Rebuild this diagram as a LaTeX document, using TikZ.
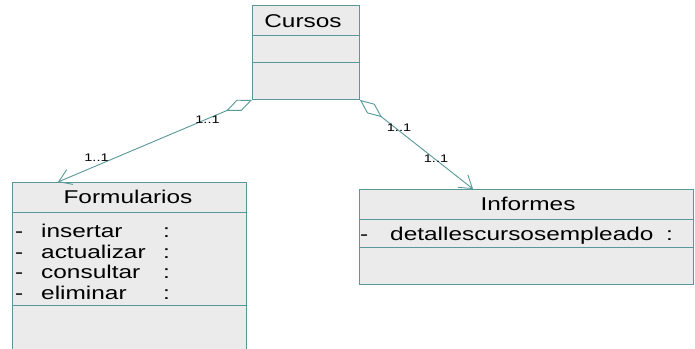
\documentclass[tikz,border=0pt]{standalone}
\usepackage{fontspec}
\setmainfont{Liberation Sans}
\newfontfamily\umlf[FakeStretch=1.32]{Liberation Sans}
\usetikzlibrary{arrows.meta}
\definecolor{tealline}{RGB}{88,152,152}
\definecolor{boxfill}{RGB}{235,235,235}
\tikzset{
 classbox/.style={draw=tealline, fill=boxfill, line width=0.9pt, inner sep=0pt, anchor=north west},
 titletext/.style={font=\umlf\fontsize{18.5}{20}\selectfont, anchor=base, inner sep=0pt},
 attrtext/.style={font=\umlf\fontsize{18.5}{20}\selectfont, anchor=base west, inner sep=0pt},
 multtext/.style={font=\umlf\fontsize{11}{12}\selectfont, anchor=center, inner sep=0pt},
 assoc/.style={draw=tealline, line width=0.9pt, {Diamond[open,length=28pt,width=12pt]}-{Straight Barb[length=12pt,width=16pt]}},
 divider/.style={draw=tealline, line width=0.9pt},
}
\begin{document}
\begin{tikzpicture}[x=1pt,y=-1pt]
\clip (0,0) rectangle (695,348);
\fill[white] (0,0) rectangle (695,348);
% Cursos
\node[classbox, minimum width=107pt, minimum height=94pt] (cursos) at (252,5) {};
\draw[divider] ([yshift=-30pt]cursos.north west) -- ([yshift=-30pt]cursos.north east);
\draw[divider] ([yshift=-57pt]cursos.north west) -- ([yshift=-57pt]cursos.north east);
\node[titletext] (cursosT) at (303,27) {Cursos};
% Formularios
\node[classbox, minimum width=234pt, minimum height=180pt] (form) at (12,182) {};
\draw[divider] ([yshift=-30pt]form.north west) -- ([yshift=-30pt]form.north east);
\draw[divider] ([yshift=-123pt]form.north west) -- ([yshift=-123pt]form.north east);
\node[titletext] (formT) at (128,203) {Formularios};
\node[attrtext] (fd1) at (15,237.5) {-};
\node[attrtext] (fa1) at (41,237.5) {insertar};
\node[attrtext] (fc1) at (163,237.5) {:};
\node[attrtext] (fd2) at (15,258) {-};
\node[attrtext] (fa2) at (41,258) {actualizar};
\node[attrtext] (fc2) at (163,258) {:};
\node[attrtext] (fd3) at (15,278.5) {-};
\node[attrtext] (fa3) at (41,278.5) {consultar};
\node[attrtext] (fc3) at (163,278.5) {:};
\node[attrtext] (fd4) at (15,299) {-};
\node[attrtext] (fa4) at (41,299) {eliminar};
\node[attrtext] (fc4) at (163,299) {:};
% Informes
\node[classbox, minimum width=334pt, minimum height=95pt] (inf) at (359,189) {};
\draw[divider] ([yshift=-30pt]inf.north west) -- ([yshift=-30pt]inf.north east);
\draw[divider] ([yshift=-58pt]inf.north west) -- ([yshift=-58pt]inf.north east);
\node[titletext] (infT) at (528,210) {Informes};
\node[attrtext] (id1) at (360,240) {-};
\node[attrtext] (ia1) at (390,240) {detallescursosempleado};
\node[attrtext] (ic1) at (666,240) {:};
% connectors
\coordinate (ftip) at ([xshift=46pt]form.north west);
\coordinate (itip) at ([xshift=114pt]inf.north west);
\draw[assoc] (cursos.south west) -- (ftip);
\draw[assoc] (cursos.south east) -- (itip);
\node[multtext] (m1) at (207.5,120) {1..1};
\node[multtext] (m2) at (96.5,157.5) {1..1};
\node[multtext] (m3) at (399,127.5) {1..1};
\node[multtext] (m4) at (436,159) {1..1};
\end{tikzpicture}
\end{document}
